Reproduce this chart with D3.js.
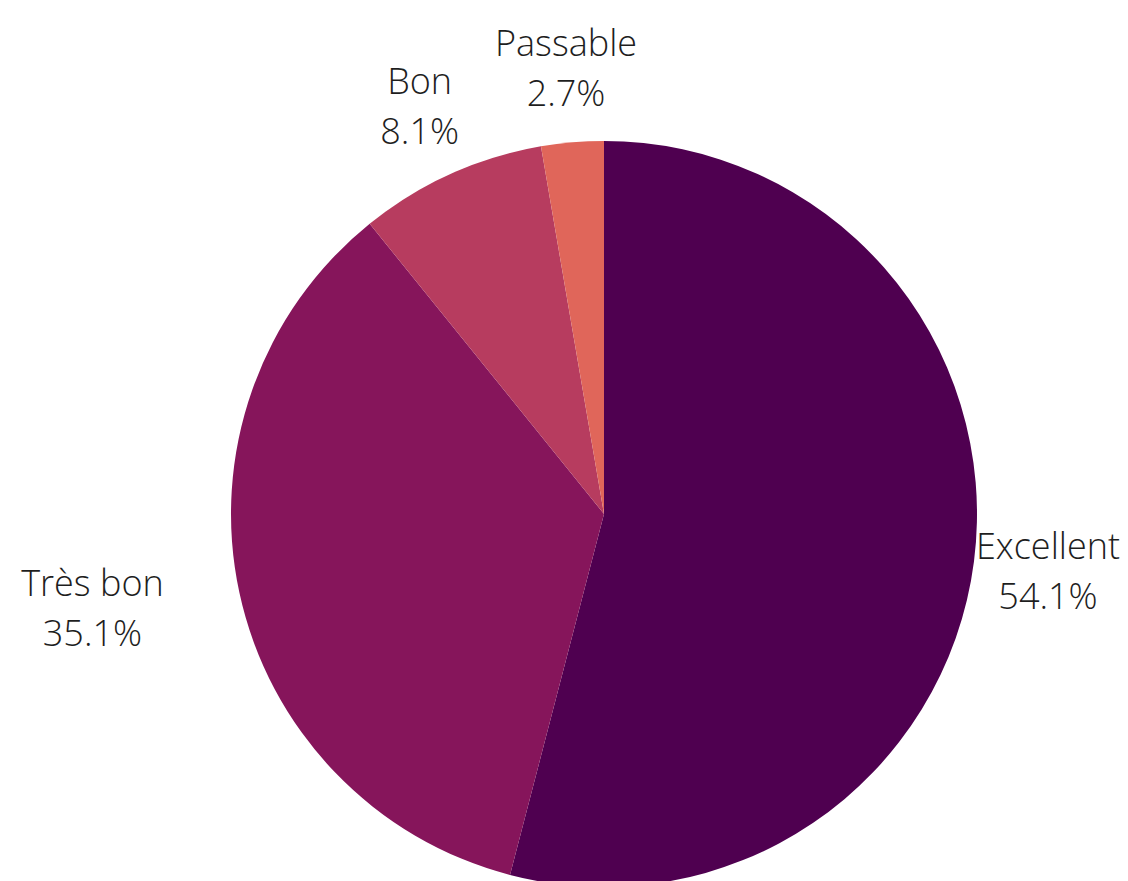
<!DOCTYPE html>
<html>
<head>
<meta charset="utf-8">
<script src="https://cdn.jsdelivr.net/npm/d3@7"></script>
<style>
  body { margin: 0; background: #fff; }
  .slice-label { font-family: "Open Sans", sans-serif; font-weight: 300; font-size: 36px; fill: #1e1e1e; }
</style>
</head>
<body>
<svg id="chart"></svg>
<script>
// Data
const categories = ['Excellent', 'Très bon', 'Bon', 'Passable'];
const counts = [20, 13, 3, 1];
const colors = ['#4f0050', '#86155b', '#b73c5f', '#e0665a'];

const width = 1128, height = 881;
const radius = 373;
const cx = 604, cy = 514;

const svg = d3.select('#chart')
    .attr('width', width)
    .attr('height', height);

const chart = svg.append('g')
    .attr('transform', `translate(${cx},${cy})`);

const data = categories.map((c, i) => ({ label: c, value: counts[i] }));
const total = d3.sum(counts);

const colorScale = d3.scaleOrdinal()
    .domain(categories)
    .range(colors);

const pie = d3.pie()
    .value(d => d.value)
    .sort(null);

const arc = d3.arc()
    .innerRadius(0)
    .outerRadius(radius);

const arcs = pie(data);

chart.selectAll('.slice')
    .data(arcs)
  .join('path')
    .attr('class', 'slice')
    .attr('d', arc)
    .attr('fill', d => colorScale(d.data.label));

// labels sit outside the pie at 1.2r; the left one is shifted further left
const labelRadius = radius * 1.2;
const shiftX = d => d.data.label === 'Très bon' ? -74 : 0;
const fmt = d3.format('.1f');

const labels = chart.selectAll('.slice-label')
    .data(arcs)
  .join('text')
    .attr('class', 'slice-label')
    .attr('text-anchor', 'middle')
    .attr('transform', d => {
      const a = (d.startAngle + d.endAngle) / 2;
      const x = labelRadius * Math.sin(a) + shiftX(d);
      const y = -labelRadius * Math.cos(a);
      return `translate(${x},${y})`;
    });

labels.append('tspan')
    .attr('x', 0)
    .attr('y', -12)
    .text(d => d.data.label);

labels.append('tspan')
    .attr('x', 0)
    .attr('y', 38)
    .text(d => fmt(d.data.value / total * 100) + '%');
</script>
</body>
</html>
